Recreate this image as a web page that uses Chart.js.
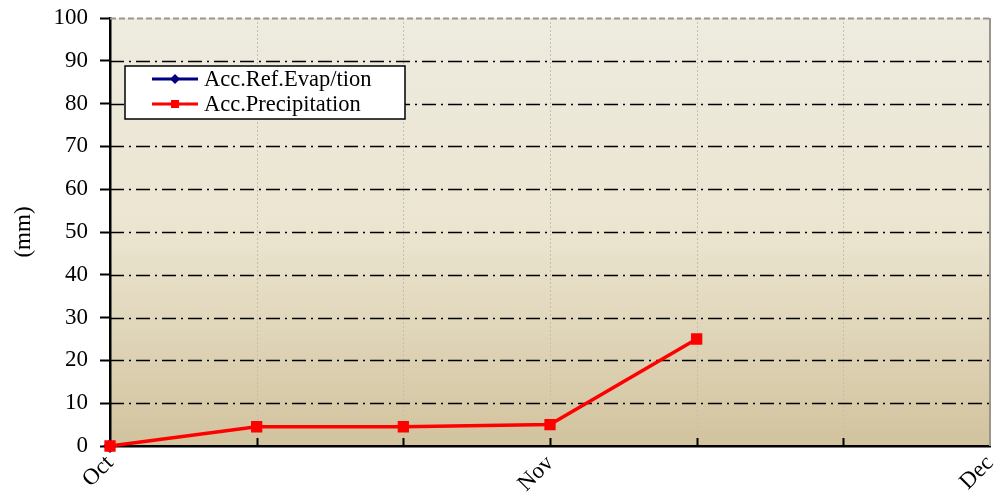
<!DOCTYPE html>
<html>
<head>
<meta charset="utf-8">
<script src="https://cdn.jsdelivr.net/npm/chart.js@4/dist/chart.umd.min.js"></script>
<style>
  html, body { margin: 0; padding: 0; background: #fff; overflow: hidden; }
  canvas { display: block; }
</style>
</head>
<body>
<canvas id="myChart" width="1007" height="497"></canvas>
<script>
'use strict';

// ======= data =======

var categories = ['Oct', '', '', 'Nov', '', '', 'Dec'];
var evapLabel = 'Acc.Ref.Evap/tion';
var precipLabel = 'Acc.Precipitation';
var evapValues = [0, null, null, null, null, null, null];
var precipValues = [0, 4.5, 4.5, 5, 25, null, null];
var yTicks = [0, 10, 20, 30, 40, 50, 60, 70, 80, 90, 100];

var fontFamily = '"Liberation Serif", "DejaVu Serif", serif';

// ======= plugins =======

// tan gradient + dashed grid behind the plot
var bgPlugin = {
  id: 'bgPlugin',
  beforeDraw: function (chart) {
    var a = chart.chartArea;
    var ctx = chart.ctx;
    var g = ctx.createLinearGradient(0, a.top, 0, a.bottom);
    g.addColorStop(0, '#eeebe0');
    g.addColorStop(0.5, '#ebe5d0');
    g.addColorStop(1, '#d2c39e');
    ctx.save();
    ctx.fillStyle = g;
    ctx.fillRect(a.left, a.top, a.right - a.left, a.bottom - a.top);
    ctx.restore();
  },
  beforeDatasetsDraw: function (chart) {
    var a = chart.chartArea;
    var ctx = chart.ctx;
    var xs = chart.scales.x;
    var ys = chart.scales.y;
    ctx.save();

    // vertical dotted lines
    ctx.strokeStyle = '#c4bead';
    ctx.lineWidth = 1;
    ctx.setLineDash([2, 2]);
    for (var i = 1; i < categories.length - 1; i++) {
      var px = Math.round(xs.getPixelForValue(i)) + 0.5;
      ctx.beginPath();
      ctx.moveTo(px, a.top);
      ctx.lineTo(px, a.bottom);
      ctx.stroke();
    }

    // right edge
    ctx.setLineDash([]);
    ctx.strokeStyle = '#9a968c';
    ctx.lineWidth = 2;
    ctx.beginPath();
    ctx.moveTo(a.right, a.top);
    ctx.lineTo(a.right, a.bottom);
    ctx.stroke();

    // horizontal dash-dot lines
    for (var k = 0; k < yTicks.length; k++) {
      var v = yTicks[k];
      if (v === 0) continue;
      var py = Math.round(ys.getPixelForValue(v)) + 0.5;
      if (v === 100) {
        ctx.strokeStyle = '#9a968c';
        ctx.lineWidth = 2;
        ctx.setLineDash([6, 3]);
      } else {
        ctx.strokeStyle = '#000';
        ctx.lineWidth = 1.6;
        ctx.setLineDash([14, 5, 2, 5]);
      }
      ctx.beginPath();
      ctx.moveTo(a.left, py);
      ctx.lineTo(a.right, py);
      ctx.stroke();
    }
    ctx.restore();
  }
};

// small inward ticks on the x axis + boxed legend
var extrasPlugin = {
  id: 'extrasPlugin',
  afterDraw: function (chart) {
    var ctx = chart.ctx;
    var a = chart.chartArea;
    var xs = chart.scales.x;
    ctx.save();
    ctx.strokeStyle = '#000';
    ctx.lineWidth = 2;
    for (var i = 1; i < categories.length - 1; i++) {
      var px = Math.round(xs.getPixelForValue(i)) + 0.5;
      ctx.beginPath();
      ctx.moveTo(px, a.bottom);
      ctx.lineTo(px, a.bottom - 8);
      ctx.stroke();
    }

    // legend box
    var bx = 125, by = 66, bw = 280, bh = 53;
    ctx.fillStyle = '#fff';
    ctx.fillRect(bx, by, bw, bh);
    ctx.strokeStyle = '#000';
    ctx.lineWidth = 1.5;
    ctx.strokeRect(bx, by, bw, bh);

    var ds = chart.data.datasets;
    for (var j = 0; j < ds.length; j++) {
      var ly = by + 13 + j * 25;
      ctx.strokeStyle = ds[j].borderColor;
      ctx.lineWidth = 3;
      ctx.beginPath();
      ctx.moveTo(152, ly);
      ctx.lineTo(198, ly);
      ctx.stroke();
      ctx.fillStyle = ds[j].borderColor;
      if (ds[j].pointStyle === 'rectRot') {
        ctx.beginPath();
        ctx.moveTo(175, ly - 5);
        ctx.lineTo(180, ly);
        ctx.lineTo(175, ly + 5);
        ctx.lineTo(170, ly);
        ctx.closePath();
        ctx.fill();
      } else {
        ctx.fillRect(171, ly - 4, 8, 8);
      }
      ctx.fillStyle = '#000';
      ctx.font = '22.5px ' + fontFamily;
      ctx.textBaseline = 'middle';
      ctx.textAlign = 'left';
      ctx.fillText(ds[j].label, 204, ly + 1);
    }
    ctx.restore();
  }
};

// ======= chart =======

var ctx = document.getElementById('myChart').getContext('2d');
var chart = new Chart(ctx, {
  type: 'line',
  data: {
    labels: categories,
    datasets: [{
      label: evapLabel,
      data: evapValues,
      borderColor: '#000080',
      backgroundColor: '#000080',
      borderWidth: 3,
      pointStyle: 'rectRot',
      pointRadius: 5,
      order: 1,
      clip: false
    },
    {
      label: precipLabel,
      data: precipValues,
      borderColor: '#ff0000',
      backgroundColor: '#ff0000',
      borderWidth: 3.5,
      pointStyle: 'rect',
      pointRadius: 5.5,
      order: 0,
      clip: false
    }]
  },
  options: {
    responsive: false,
    animation: false,
    devicePixelRatio: 1,
    layout: { padding: { top: 18, right: 17, left: 0, bottom: 0 } },
    plugins: {
      legend: { display: false },
      tooltip: { enabled: false }
    },
    scales: {
      x: {
        offset: false,
        grid: { drawOnChartArea: false, drawTicks: false },
        border: { color: '#000', width: 2.5 },
        ticks: {
          autoSkip: false,
          maxRotation: 45,
          minRotation: 45,
          padding: 4,
          color: '#000',
          font: { family: fontFamily, size: 23 }
        },
        afterFit: function (scale) {
          scale.height = 51;
          scale.paddingLeft = 0;
          scale.paddingRight = 0;
        }
      },
      y: {
        min: 0,
        max: 100,
        afterBuildTicks: function (scale) {
          scale.ticks = yTicks.map(function (v) { return { value: v }; });
        },
        grid: {
          drawOnChartArea: false,
          tickLength: 10,
          tickColor: '#000',
          tickWidth: 2
        },
        border: { color: '#000', width: 2.5 },
        ticks: {
          padding: 12,
          color: '#000',
          font: { family: fontFamily, size: 23 }
        },
        title: {
          display: true,
          text: '(mm)',
          color: '#000',
          padding: { top: 10, bottom: 4 },
          font: { family: fontFamily, size: 23 }
        },
        afterFit: function (scale) {
          scale.width = 110;
          scale.paddingTop = 0;
          scale.paddingBottom = 0;
        }
      }
    }
  },
  plugins: [bgPlugin, extrasPlugin]
});
</script>
</body>
</html>
